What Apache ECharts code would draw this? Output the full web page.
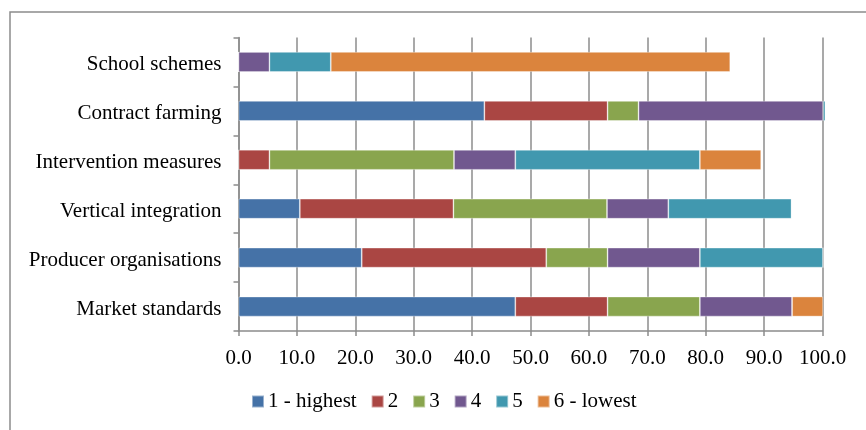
<!DOCTYPE html>
<html>
<head>
<meta charset="utf-8">
<script src="https://cdn.jsdelivr.net/npm/echarts@6/dist/echarts.min.js"></script>
<style>
html,body{margin:0;padding:0;background:#fff;}
#chart{width:866px;height:430px;}
</style>
</head>
<body>
<div id="chart"></div>
<script>
const categories = ["Market standards", "Producer organisations", "Vertical integration", "Intervention measures", "Contract farming", "School schemes"];
const seriesNames = ["1 - highest", "2", "3", "4", "5", "6 - lowest"];
const rank1 = [47.4, 21.1, 10.5, 0, 42.1, 0];
const rank2 = [15.8, 31.6, 26.3, 5.3, 21.1, 0];
const rank3 = [15.8, 10.5, 26.3, 31.6, 5.3, 0];
const rank4 = [15.8, 15.8, 10.5, 10.5, 31.6, 5.3];
const rank5 = [0, 21.1, 21.1, 31.6, 0.4, 10.5];
const rank6 = [5.3, 0, 0, 10.5, 0, 68.4];
const xTicks = [0, 10, 20, 30, 40, 50, 60, 70, 80, 90, 100];
const colors = ["#4572A7", "#AA4643", "#89A54E", "#71588F", "#4198AF", "#DB843D"];

const allData = [rank1, rank2, rank3, rank4, rank5, rank6];
const font = "Liberation Serif";

const chart = echarts.init(document.getElementById('chart'));
chart.setOption({
  animation: false,
  color: colors,
  textStyle: { fontFamily: font },
  graphic: [{
    type: 'rect',
    shape: { x: 10, y: 12, width: 900, height: 500 },
    style: { fill: 'none', stroke: '#8c8c8c', lineWidth: 1.5 },
    silent: true, z: -1
  }],
  grid: { left: 238.5, right: 43.5, top: 37.5, bottom: 99, containLabel: false },
  legend: {
    top: 386, left: 246,
    itemWidth: 12, itemHeight: 12, itemGap: 14,
    icon: 'rect',
    textStyle: { fontFamily: font, fontSize: 21, color: '#000', padding: [0, 0, 0, -1] },
    data: seriesNames
  },
  xAxis: {
    type: 'value', min: xTicks[0], max: xTicks[xTicks.length - 1], interval: 10,
    axisLine: { show: true, lineStyle: { color: '#8c8c8c', width: 1.5 } },
    axisTick: { show: true, length: 5, lineStyle: { color: '#8c8c8c', width: 1.5 } },
    splitLine: { show: true, lineStyle: { color: '#8c8c8c', width: 1.5 } },
    axisLabel: { fontFamily: font, fontSize: 21, color: '#000', margin: 17,
      formatter: v => v.toFixed(1) }
  },
  yAxis: {
    type: 'category', data: categories,
    axisLine: { show: true, lineStyle: { color: '#8c8c8c', width: 1.5 } },
    axisTick: { show: true, length: 5, lineStyle: { color: '#8c8c8c', width: 1.5 } },
    axisLabel: {
      fontFamily: font, fontSize: 21, color: '#000', margin: 17,
      formatter: v => '{a|' + v + '}',
      rich: { a: { fontFamily: font, fontSize: 21, color: '#000', padding: [5, 0, 0, 0] } }
    }
  },
  series: allData.map((d, i) => ({
    name: seriesNames[i], type: 'bar', stack: 'total', data: d,
    barWidth: 20, clip: false,
    itemStyle: { borderColor: 'rgba(255,255,255,0.45)', borderWidth: 0.8 }
  }))
});
</script>
</body>
</html>
